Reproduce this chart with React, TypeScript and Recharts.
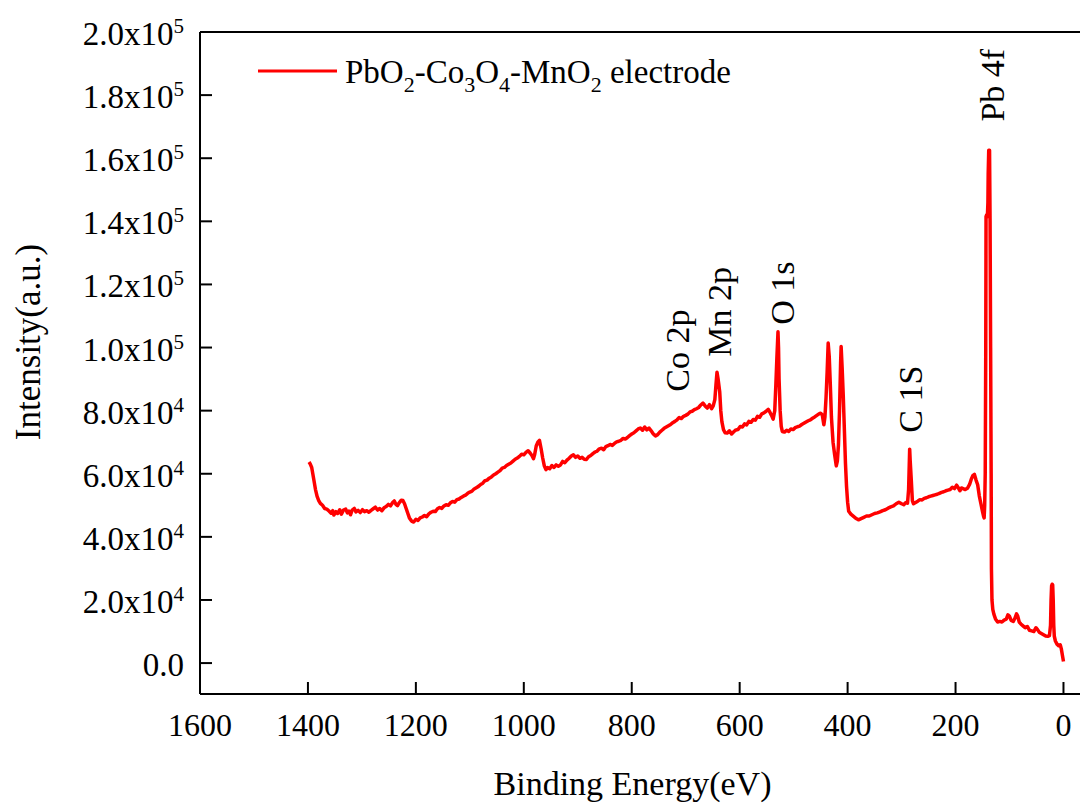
import React from 'react';
import { LineChart, Line, XAxis, YAxis, ReferenceLine, ReferenceDot, Legend, Label } from 'recharts';

const FONT = '"Liberation Serif", "Times New Roman", serif';

// Binding energy (eV)
const bindingEnergy = [
  1398, 1396, 1393, 1391, 1389, 1386, 1383, 1380, 1377, 1373,
  1369, 1365, 1361, 1357, 1354, 1352, 1348, 1345, 1341, 1338,
  1334, 1330, 1327, 1324, 1321, 1318, 1314, 1311, 1307, 1303,
  1299, 1295, 1291, 1287, 1283, 1279, 1275, 1271, 1267, 1263,
  1259, 1255, 1251, 1247, 1243, 1240, 1237, 1234, 1231, 1227,
  1224, 1221, 1218, 1215, 1212, 1208, 1204, 1200, 1196, 1192,
  1188, 1184, 1180, 1176, 1172, 1168, 1164, 1160, 1156, 1152,
  1148, 1144, 1140, 1136, 1132, 1128, 1124, 1120, 1116, 1112,
  1108, 1104, 1100, 1096, 1092, 1088, 1084, 1080, 1076, 1072,
  1068, 1064, 1060, 1056, 1052, 1048, 1044, 1040, 1036, 1032,
  1028, 1024, 1020, 1016, 1012, 1008, 1004, 1000, 996, 992,
  988, 985, 982, 980, 977, 974, 971, 968, 965, 962,
  959, 956, 952, 948, 944, 940, 936, 932, 928, 924,
  920, 916, 912, 908, 904, 900, 896, 892, 888, 884,
  880, 876, 872, 868, 864, 860, 856, 852, 848, 844,
  840, 836, 832, 828, 824, 820, 816, 812, 808, 804,
  800, 796, 792, 788, 784, 780, 776, 772, 768, 764,
  760, 756, 752, 748, 744, 740, 736, 732, 728, 724,
  720, 716, 712, 708, 704, 700, 696, 692, 688, 684,
  680, 676, 672, 668, 664, 660, 656, 652, 649, 646,
  644, 642, 640, 637, 635, 633, 630, 627, 623, 619,
  615, 611, 607, 603, 599, 595, 591, 587, 583, 579,
  575, 571, 567, 563, 559, 555, 551, 547, 544, 541,
  538, 535, 533, 531, 529, 528, 527, 525, 523, 521,
  517, 513, 509, 505, 501, 497, 493, 489, 485, 481,
  477, 473, 469, 465, 461, 457, 453, 450, 447, 444,
  442, 440, 438, 436, 434, 432, 430, 427, 424, 421,
  419, 417, 415, 413, 412, 410, 408, 406, 404, 402,
  400, 398, 394, 389, 385, 380, 375, 370, 365, 360,
  355, 350, 345, 340, 335, 330, 325, 320, 315, 310,
  305, 300, 296, 292, 289, 287, 285, 284, 282, 280,
  278, 274, 270, 266, 262, 258, 254, 250, 246, 242,
  238, 234, 230, 226, 222, 218, 214, 210, 206, 202,
  198, 195, 192, 189, 186, 182, 178, 174, 171, 168,
  165, 162, 159, 156, 153, 150, 148, 147, 146, 145,
  144, 143.5, 142.5, 141, 140, 139.5, 138.5, 137, 136, 135,
  134, 133.5, 132.5, 131, 129, 126, 122, 118, 114, 110,
  106, 103, 100, 97, 93, 90, 87, 85, 82, 79,
  75, 71, 67, 63, 59, 55, 51, 48, 45, 41,
  37, 33, 29, 26, 24, 23, 22, 21, 20, 19,
  18, 17, 15, 12, 9, 6, 4, 2, 0,
];

// Intensity in units of 10^3 counts (a.u.)
const intensityK = [
  63.7, 63.2, 62.0, 60.0, 58.0, 55.0, 52.8, 51.5, 50.6, 50.0,
  49.0, 48.8, 48.2, 47.5, 48.3, 46.9, 48.0, 47.4, 48.6, 47.2,
  48.5, 48.8, 47.6, 48.2, 47.0, 48.5, 49.0, 47.9, 48.4, 47.7,
  48.6, 48.0, 48.3, 47.8, 48.4, 48.9, 49.4, 48.5, 49.0, 48.3,
  49.2, 49.6, 50.3, 49.8, 50.9, 51.4, 50.3, 49.9, 50.8, 51.6,
  51.5, 50.5, 49.0, 47.5, 46.0, 45.0, 44.7, 45.6, 45.2, 46.0,
  46.3, 46.8, 46.4, 47.3, 47.8, 48.1, 48.0, 48.9, 49.3, 49.0,
  49.8, 50.2, 50.0, 50.8, 51.2, 51.0, 51.8, 52.0, 52.5, 52.9,
  53.2, 53.8, 54.2, 54.5, 55.2, 55.6, 56.0, 56.6, 57.0, 57.8,
  58.0, 58.6, 59.0, 59.6, 60.0, 60.5, 61.0, 61.8, 62.0, 62.6,
  63.0, 63.4, 64.0, 64.6, 65.0, 65.5, 66.2, 66.0, 66.8, 67.3,
  66.5, 65.8, 64.8, 66.0, 68.8, 70.0, 70.6, 68.0, 65.0, 62.5,
  61.3, 62.0, 61.6, 62.6, 62.0, 62.8, 62.4, 62.8, 63.9, 63.5,
  64.3, 64.9, 65.6, 66.0, 65.2, 65.6, 64.9, 65.2, 64.6, 64.5,
  65.4, 65.8, 66.4, 66.9, 67.2, 67.9, 68.1, 67.6, 68.6, 68.9,
  69.3, 69.0, 69.6, 70.1, 70.3, 70.6, 71.2, 71.0, 71.5, 72.1,
  72.6, 73.0, 73.6, 74.2, 74.5, 73.8, 74.8, 73.9, 74.5, 73.6,
  72.6, 72.0, 72.4, 73.2, 73.8, 74.4, 74.8, 75.2, 75.6, 76.2,
  76.6, 77.1, 77.8, 77.5, 78.2, 78.5, 78.9, 79.6, 79.8, 80.3,
  80.6, 81.0, 81.8, 82.4, 81.5, 80.8, 81.9, 80.6, 81.5, 83.5,
  88.0, 92.2, 90.0, 86.0, 80.0, 76.5, 74.0, 73.0, 72.9, 73.6,
  72.6, 73.3, 73.9, 74.0, 75.0, 74.8, 75.8, 75.5, 76.6, 76.3,
  77.2, 77.0, 78.2, 77.9, 79.0, 79.3, 79.8, 80.4, 79.5, 78.5,
  77.3, 80.0, 88.0, 97.0, 105.0, 100.0, 90.0, 80.0, 75.0, 73.4,
  73.2, 73.8, 73.4, 74.2, 74.0, 74.6, 74.9, 75.1, 75.6, 76.0,
  76.4, 76.8, 77.1, 77.6, 78.0, 78.5, 79.0, 79.2, 78.7, 75.5,
  78.0, 84.0, 92.0, 101.4, 97.0, 88.0, 78.0, 70.0, 66.0, 62.5,
  64.0, 69.0, 80.0, 95.0, 100.3, 93.0, 84.5, 74.0, 63.4, 56.0,
  51.0, 48.1, 47.2, 46.5, 45.9, 45.4, 45.8, 46.2, 46.6, 46.6,
  47.0, 47.4, 47.6, 47.9, 48.3, 48.6, 49.1, 49.5, 49.8, 50.5,
  51.0, 50.5, 50.2, 50.9, 50.7, 55.0, 67.8, 64.0, 58.0, 51.5,
  50.5, 50.9, 51.3, 51.8, 51.7, 52.2, 52.4, 52.7, 52.9, 53.1,
  53.3, 53.5, 53.8, 54.1, 54.3, 54.6, 54.8, 55.0, 55.7, 55.3,
  56.4, 55.6, 54.6, 55.5, 55.3, 55.0, 55.4, 56.6, 58.2, 59.4,
  59.8, 58.0, 56.5, 53.0, 50.5, 48.0, 46.5, 46.0, 50.0, 60.0,
  100.0, 141.5, 142.0, 141.5, 146.0, 155.0, 162.5, 162.5, 140.0, 100.0,
  60.0, 30.0, 20.0, 17.0, 15.5, 14.0, 13.0, 13.2, 13.0, 13.6,
  13.9, 15.3, 14.8, 13.5, 13.2, 14.2, 15.6, 15.0, 13.0, 12.4,
  11.8, 11.2, 11.6, 10.4, 10.2, 10.0, 11.2, 10.6, 9.8, 9.4,
  9.0, 8.6, 8.5, 8.7, 12.0, 20.0, 24.5, 25.0, 24.8, 20.0,
  12.0, 8.5, 7.0, 6.0, 5.5, 5.8, 4.5, 2.5, 0.5,
];

const xTicks = [1600, 1400, 1200, 1000, 800, 600, 400, 200, 0];
const yTicks = [0, 20000, 40000, 60000, 80000, 100000, 120000, 140000, 160000, 180000, 200000];
const yTickMantissa = ['0.0', '2.0', '4.0', '6.0', '8.0', '1.0', '1.2', '1.4', '1.6', '1.8', '2.0'];
const yTickExponent = ['', '4', '4', '4', '4', '5', '5', '5', '5', '5', '5'];

const peakNames = ['Co 2p', 'Mn 2p', 'O 1s', 'C 1S', 'Pb 4f'];
const peakLabelEnergy = [715, 636, 519, 282, 130];
const peakLabelIntensity = [86000, 97100, 107200, 73000, 171600];

const legendParts = [
  { t: 'PbO', sub: false }, { t: '2', sub: true },
  { t: '-Co', sub: false }, { t: '3', sub: true },
  { t: 'O', sub: false }, { t: '4', sub: true },
  { t: '-MnO', sub: false }, { t: '2', sub: true },
  { t: ' electrode', sub: false },
];

const data = bindingEnergy.map((e, i) => ({ x: e, y: intensityK[i] * 1000 }));

const XTick = (props: any) => {
  const { x, y, payload } = props;
  return (
    <g>
      <line x1={x} x2={x} y1={y} y2={y - 12} stroke="#000" strokeWidth={2} />
      <text x={x} y={y + 42} textAnchor="middle" fontSize={32} fontFamily={FONT} fill="#000">
        {payload.value}
      </text>
    </g>
  );
};

const YTick = (props: any) => {
  const { x, y, payload } = props;
  const idx = yTicks.indexOf(payload.value);
  const m = yTickMantissa[idx];
  const e = yTickExponent[idx];
  return (
    <g>
      <line x1={x} x2={x + 12} y1={y} y2={y} stroke="#000" strokeWidth={2} />
      <text x={x - 16} y={y + 13} textAnchor="end" fontSize={33} fontFamily={FONT} fill="#000">
        {e ? (
          <>
            <tspan>{m + 'x10'}</tspan>
            <tspan dy={-12} fontSize={21}>{e}</tspan>
          </>
        ) : (
          m
        )}
      </text>
    </g>
  );
};

const PeakLabel = (props: any) => {
  const { viewBox, text } = props;
  const cx = viewBox.x + viewBox.width / 2;
  const cy = viewBox.y + viewBox.height / 2;
  const bx = cx + 11;
  return (
    <text
      x={bx}
      y={cy}
      transform={`rotate(-90, ${bx}, ${cy})`}
      textAnchor="start"
      fontSize={34}
      fontFamily={FONT}
      fill="#000"
    >
      {text}
    </text>
  );
};

const LegendContent = () => (
  <svg width={800} height={110} style={{ overflow: 'visible' }}>
    <line x1={258} x2={337} y1={71} y2={71} stroke="#ff0000" strokeWidth={3} />
    <text x={345} y={83} fontSize={33} fontFamily={FONT} fill="#000">
      {legendParts.map((p, i) => {
        const prevSub = i > 0 && legendParts[i - 1].sub;
        const dy = p.sub ? 9 : prevSub ? -9 : 0;
        return (
          <tspan key={i} dy={dy} fontSize={p.sub ? 22 : 33} style={{ whiteSpace: 'pre' }}>
            {p.t}
          </tspan>
        );
      })}
    </text>
  </svg>
);

export default function App() {
  return (
    <div
      style={{
        position: 'fixed',
        left: 0,
        top: 0,
        width: 1080,
        height: 804,
        overflow: 'hidden',
        background: '#fff',
      }}
    >
      <LineChart width={1091} height={804} data={data} margin={{ top: 32, right: 0, bottom: 0, left: 0 }}>
        <XAxis
          dataKey="x"
          type="number"
          domain={[-51, 1600]}
          reversed
          ticks={xTicks}
          interval={0}
          height={110}
          tickSize={0}
          tickMargin={0}
          tickLine={false}
          tick={<XTick />}
          axisLine={{ stroke: '#000', strokeWidth: 2 }}
          allowDataOverflow
        >
          <Label
            content={(p: any) => {
              const vb = p.viewBox;
              const cx = vb.x + vb.width / 2 - 13;
              return (
                <text x={cx} y={795} textAnchor="middle" fontSize={34} fontFamily={FONT} fill="#000">
                  Binding Energy(eV)
                </text>
              );
            }}
          />
        </XAxis>
        <YAxis
          type="number"
          domain={[-9800, 200000]}
          ticks={yTicks}
          interval={0}
          width={200}
          tickSize={0}
          tickMargin={0}
          tickLine={false}
          tick={<YTick />}
          axisLine={{ stroke: '#000', strokeWidth: 2 }}
          allowDataOverflow
        >
          <Label
            content={(p: any) => {
              const vb = p.viewBox;
              const cy = vb.y + vb.height / 2 - 21;
              const bx = 40;
              return (
                <text
                  x={bx}
                  y={cy}
                  transform={`rotate(-90, ${bx}, ${cy})`}
                  textAnchor="middle"
                  fontSize={35}
                  fontFamily={FONT}
                  fill="#000"
                >
                  Intensity(a.u.)
                </text>
              );
            }}
          />
        </YAxis>
        <ReferenceLine y={200000} stroke="#000" strokeWidth={2} ifOverflow="visible" />
        <Legend
          layout="horizontal"
          verticalAlign="middle"
          align="center"
          wrapperStyle={{ position: 'absolute', left: 0, top: 0, width: 800, height: 110 }}
          content={() => <LegendContent />}
        />
        <Line
          type="linear"
          dataKey="y"
          name="PbO2-Co3O4-MnO2 electrode"
          stroke="#ff0000"
          strokeWidth={3.5}
          strokeLinejoin="round"
          dot={false}
          activeDot={false}
          isAnimationActive={false}
        />
        {peakNames.map((n, i) => (
          <ReferenceDot
            key={n}
            x={peakLabelEnergy[i]}
            y={peakLabelIntensity[i]}
            r={1}
            fill="none"
            stroke="none"
            ifOverflow="visible"
            label={(p: any) => <PeakLabel viewBox={p.viewBox} text={n} />}
          />
        ))}
      </LineChart>
    </div>
  );
}
